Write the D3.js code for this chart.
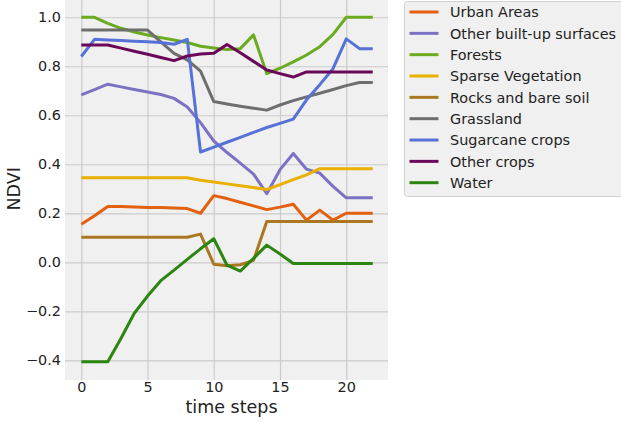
<!DOCTYPE html>
<html>
<head>
<meta charset="utf-8">
<script src="https://cdn.jsdelivr.net/npm/d3@7"></script>
<style>
  html, body { margin: 0; padding: 0; background: #fff; }
  svg { display: block; font-family: "DejaVu Sans", sans-serif; }
</style>
</head>
<body>
<svg id="chart" width="621" height="423"></svg>
<script>
const steps = d3.range(0, 23);

const urbanAreas = [0.155, 0.19, 0.228, 0.228, 0.226, 0.224, 0.224, 0.222, 0.219, 0.2, 0.272, 0.26, 0.245, 0.23, 0.215, 0.225, 0.237, 0.172, 0.213, 0.172, 0.2, 0.2, 0.2];
const otherBuiltUp = [0.683, 0.705, 0.727, 0.716, 0.705, 0.695, 0.685, 0.669, 0.634, 0.57, 0.495, 0.448, 0.405, 0.36, 0.28, 0.378, 0.444, 0.38, 0.364, 0.31, 0.263, 0.263, 0.263];
const forests = [1.0, 1.0, 0.975, 0.955, 0.94, 0.928, 0.917, 0.907, 0.897, 0.882, 0.875, 0.868, 0.872, 0.928, 0.77, 0.792, 0.818, 0.846, 0.88, 0.93, 1.0, 1.0, 1.0];
const sparseVegetation = [0.345, 0.345, 0.345, 0.345, 0.345, 0.345, 0.345, 0.345, 0.345, 0.335, 0.328, 0.32, 0.312, 0.305, 0.297, 0.317, 0.337, 0.357, 0.382, 0.382, 0.382, 0.382, 0.382];
const rocksBareSoil = [0.102, 0.102, 0.102, 0.102, 0.102, 0.102, 0.102, 0.102, 0.102, 0.115, -0.008, -0.014, -0.01, 0.008, 0.166, 0.166, 0.166, 0.166, 0.166, 0.166, 0.166, 0.166, 0.166];
const grassland = [0.948, 0.948, 0.948, 0.948, 0.948, 0.948, 0.9, 0.853, 0.826, 0.78, 0.656, 0.646, 0.637, 0.629, 0.621, 0.642, 0.66, 0.675, 0.69, 0.705, 0.721, 0.734, 0.734];
const sugarcaneCrops = [0.84, 0.91, 0.907, 0.905, 0.902, 0.9, 0.897, 0.89, 0.91, 0.45, 0.47, 0.49, 0.51, 0.53, 0.55, 0.567, 0.584, 0.663, 0.725, 0.79, 0.912, 0.872, 0.872];
const otherCrops = [0.887, 0.887, 0.887, 0.874, 0.861, 0.849, 0.836, 0.823, 0.842, 0.85, 0.853, 0.889, 0.855, 0.82, 0.785, 0.77, 0.756, 0.777, 0.777, 0.777, 0.777, 0.777, 0.777];
const water = [-0.406, -0.406, -0.406, -0.31, -0.208, -0.138, -0.075, -0.032, 0.012, 0.055, 0.096, -0.012, -0.036, 0.016, 0.07, 0.034, -0.005, -0.005, -0.005, -0.005, -0.005, -0.005, -0.005];

const seriesNames = ["Urban Areas", "Other built-up surfaces", "Forests", "Sparse Vegetation", "Rocks and bare soil", "Grassland", "Sugarcane crops", "Other crops", "Water"];
const seriesValues = [urbanAreas, otherBuiltUp, forests, sparseVegetation, rocksBareSoil, grassland, sugarcaneCrops, otherCrops, water];
const seriesColors = ["#e2600e", "#7c72c4", "#6aab1f", "#e9b000", "#ab7821", "#6e6e6e", "#5671d7", "#6b0758", "#2b8511"];

const xTicks = [0, 5, 10, 15, 20];
const yTicks = [-0.4, -0.2, 0.0, 0.2, 0.4, 0.6, 0.8, 1.0];

const W = 621;
const H = 423;
const margin = { top: 0, right: 233, bottom: 43, left: 65 };
const plotW = W - margin.left - margin.right;
const plotH = H - margin.top - margin.bottom;

const x = d3.scaleLinear().domain([-1.23, 23.15]).range([0, plotW]);
const y = d3.scaleLinear().domain([-0.4805, 1.0705]).range([plotH, 0]);

const svg = d3.select("#chart");
const g = svg.append("g").attr("transform", `translate(${margin.left},${margin.top})`);

g.append("rect").attr("width", plotW).attr("height", plotH).attr("fill", "#f0f0f0");

g.append("g")
  .call(d3.axisLeft(y).tickValues(yTicks).tickSize(-plotW).tickFormat(""))
  .call((sel) => sel.select(".domain").remove())
  .call((sel) => sel.selectAll("line").attr("stroke", "#cbcbcb").attr("stroke-width", 1.2));

g.append("g")
  .attr("transform", `translate(0,${plotH})`)
  .call(d3.axisBottom(x).tickValues(xTicks).tickSize(-plotH).tickFormat(""))
  .call((sel) => sel.select(".domain").remove())
  .call((sel) => sel.selectAll("line").attr("stroke", "#cbcbcb").attr("stroke-width", 1.2));

g.append("g")
  .attr("transform", `translate(0,${plotH})`)
  .call(d3.axisBottom(x).tickValues(xTicks).tickSize(0).tickPadding(2).tickFormat(d3.format("d")))
  .call((sel) => sel.select(".domain").remove())
  .call((sel) => sel.selectAll("text").attr("fill", "#222").attr("font-size", "14.4px").attr("font-family", "DejaVu Sans"));

g.append("g")
  .call(d3.axisLeft(y).tickValues(yTicks).tickSize(0).tickPadding(4).tickFormat((d) => d3.format(".1f")(d).replace("-", "\u2212")))
  .call((sel) => sel.select(".domain").remove())
  .call((sel) => sel.selectAll("text").attr("fill", "#222").attr("font-size", "14.4px").attr("font-family", "DejaVu Sans"));

g.append("text")
  .attr("x", plotW / 2 + 5)
  .attr("y", plotH + 33)
  .attr("text-anchor", "middle")
  .attr("fill", "#222")
  .attr("font-size", "17.5px")
  .text("time steps");

g.append("text")
  .attr("transform", `translate(${-margin.left + 20},${y(0.3)}) rotate(-90)`)
  .attr("text-anchor", "middle")
  .attr("fill", "#222")
  .attr("font-size", "17.5px")
  .text("NDVI");

const line = d3.line()
  .x((d, i) => x(steps[i]))
  .y((d) => y(d));

seriesValues.forEach((vals, k) => {
  g.append("path")
    .datum(vals)
    .attr("fill", "none")
    .attr("stroke", seriesColors[k])
    .attr("stroke-width", 3)
    .attr("stroke-linejoin", "round")
    .attr("d", line);
});

// legend
const leg = svg.append("g").attr("transform", "translate(404.5,1.5)");
leg.append("rect")
  .attr("width", 240)
  .attr("height", 195)
  .attr("rx", 3)
  .attr("fill", "#f0f0f0")
  .attr("stroke", "#d3d3d3")
  .attr("stroke-width", 1);

const rowY = d3.scaleLinear().domain([0, 8]).range([10.5, 181.2]);

seriesNames.forEach((name, k) => {
  const row = leg.append("g").attr("transform", `translate(0,${rowY(k)})`);
  row.append("line")
    .attr("x1", 5).attr("x2", 34)
    .attr("stroke", seriesColors[k])
    .attr("stroke-width", 3);
  row.append("text")
    .attr("x", 45.5)
    .attr("dy", "0.36em")
    .attr("fill", "#222")
    .attr("font-size", "14.4px")
    .text(name);
});
</script>
</body>
</html>
